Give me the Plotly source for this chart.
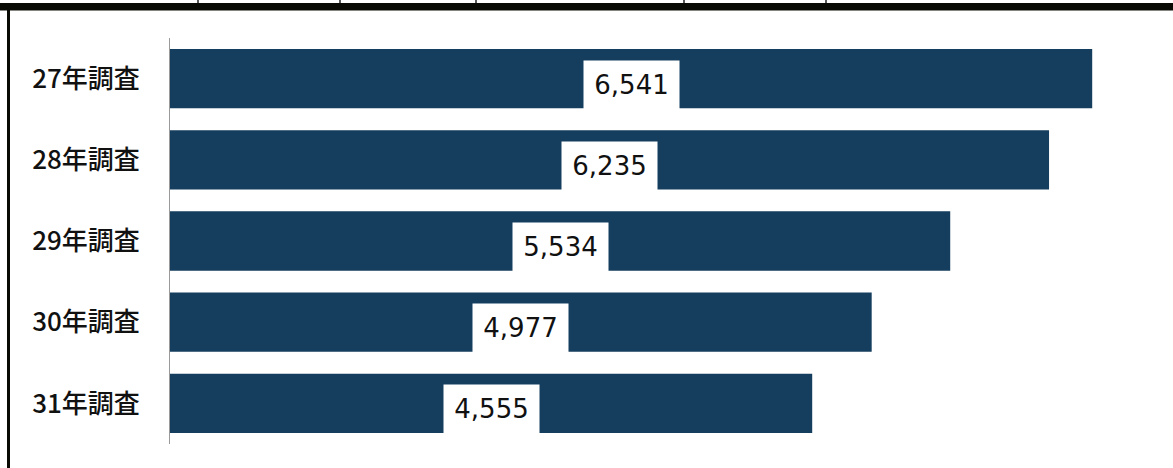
import plotly.graph_objects as go

categories = ["27年調査", "28年調査", "29年調査", "30年調査", "31年調査"]
values = [6541, 6235, 5534, 4977, 4555]
value_labels = ["6,541", "6,235", "5,534", "4,977", "4,555"]

BAR = "#153e5e"

fig = go.Figure(go.Bar(
    x=values, y=categories, orientation="h",
    marker=dict(color=BAR, line=dict(width=0)),
    hoverinfo="skip",
))

annotations = []
for c, v, t in zip(categories, values, value_labels):
    annotations.append(dict(
        x=v / 2, y=c, xref="x", yref="y", text=t, showarrow=False,
        font=dict(family="DejaVu Sans", size=26, color="#111111"),
        bgcolor="white", width=93, height=46, yshift=-6,
    ))

W, H = 1173, 468
ML, MR, MT, MB = 170, 23, 38, 24

fig.update_layout(
    width=W, height=H,
    margin=dict(l=ML, r=MR, t=MT, b=MB),
    paper_bgcolor="white", plot_bgcolor="white",
    bargap=0.27,
    showlegend=False,
    xaxis=dict(range=[0, 6951], showgrid=False, zeroline=False,
               showticklabels=False, showline=False, fixedrange=True),
    yaxis=dict(autorange="reversed", showgrid=False, zeroline=False,
               showline=True, linecolor="#9a9a9a", linewidth=1,
               ticks="", ticklabelstandoff=24,
               tickfont=dict(family="Noto Sans CJK JP", size=26, color="#111111",
                             weight=500),
               fixedrange=True),
    annotations=annotations,
)

# scanned frame lines (page pixels converted to paper coordinates)
pw = W - ML - MR
ph = H - MT - MB
def px(x):
    return (x - ML) / pw
def py(y):
    return 1 - (y - MT) / ph

frame = [
    dict(type="rect", xref="paper", yref="paper", x0=px(0), x1=px(1173),
         y0=py(10.5), y1=py(3), fillcolor="#0a0a05", line=dict(width=0)),
    dict(type="rect", xref="paper", yref="paper", x0=px(7), x1=px(10),
         y0=py(468), y1=py(3), fillcolor="#0a0a05", line=dict(width=0)),
]
for xs in [198, 340, 476, 684, 826]:
    frame.append(dict(type="line", xref="paper", yref="paper", x0=px(xs), x1=px(xs),
                      y0=py(3), y1=py(0), line=dict(color="#222222", width=1.5)))
fig.update_layout(shapes=frame)

fig.write_html("out.html", config={"displayModeBar": False},
               post_script="document.body.style.margin='0';document.body.style.padding='0';")
